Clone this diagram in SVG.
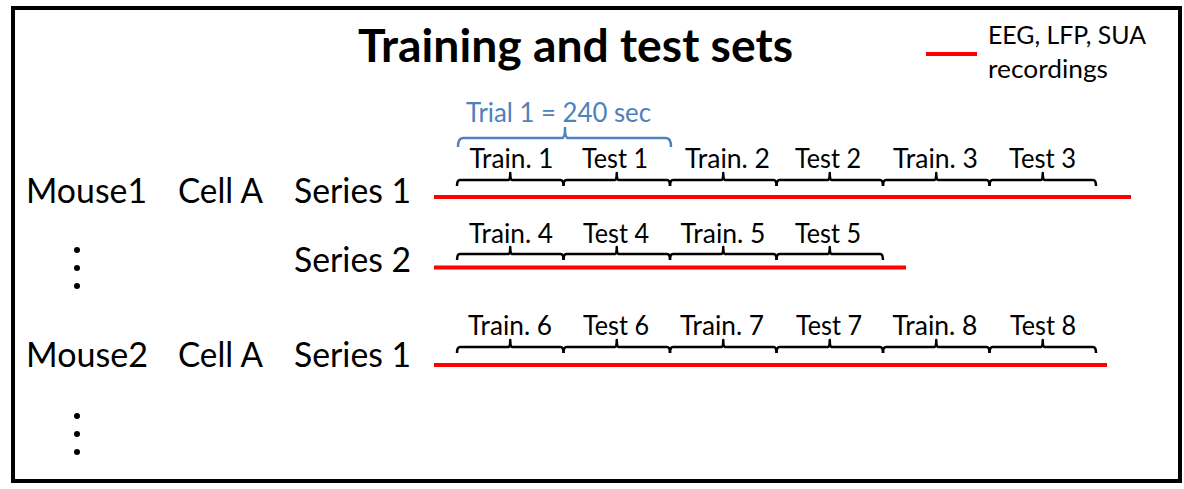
<svg xmlns="http://www.w3.org/2000/svg" xmlns:xlink="http://www.w3.org/1999/xlink" width="1184" height="489" viewBox="0 0 1184 489">
  <style>
    text { font-family: Lato, "Open Sans", "Liberation Sans", sans-serif; fill: #000; }
    .title { font-size: 45px; font-weight: bold; text-anchor: middle; }
    .main { font-size: 34px; }
    .seg { font-size: 26px; text-anchor: middle; }
    .leg { font-size: 25.5px; }
    .blue { font-size: 26px; fill: #4f81bd; text-anchor: middle; }
    .rec { stroke: #ff0000; stroke-width: 4; fill: none; }
    .brace { stroke: #000; stroke-width: 2.5; fill: none; stroke-linejoin: round; }
    .bbrace { stroke: #4f81bd; stroke-width: 2.5; fill: none; stroke-linejoin: round; }
    .dot { fill: #000; }
  </style>
  <defs>
    <path id="br" class="brace" d="M0,6 Q0,0 3,0 H51.5 Q53.25,0 53.25,-7 Q53.25,0 55,0 H103.5 Q106.5,0 106.5,6"/>
  </defs>
  <rect x="13" y="8" width="1167" height="473" fill="#fff" stroke="#000" stroke-width="4"/>

  <g id="title">
    <text class="title" x="575.5" y="62" textLength="435" lengthAdjust="spacingAndGlyphs">Training and test sets</text>
  </g>

  <g id="legend">
    <line class="rec" x1="926" y1="54" x2="977" y2="54"/>
    <text class="leg" x="988" y="44" textLength="158" lengthAdjust="spacingAndGlyphs">EEG, LFP, SUA</text>
    <text class="leg" x="988" y="78" textLength="120" lengthAdjust="spacingAndGlyphs">recordings</text>
  </g>

  <g id="labels">
    <text class="main" x="26" y="203" textLength="121" lengthAdjust="spacingAndGlyphs">Mouse1</text>
    <text class="main" x="178" y="203" textLength="85" lengthAdjust="spacingAndGlyphs">Cell A</text>
    <text class="main" x="294" y="203" textLength="117" lengthAdjust="spacingAndGlyphs">Series 1</text>
    <text class="main" x="294" y="272" textLength="117" lengthAdjust="spacingAndGlyphs">Series 2</text>
    <text class="main" x="26" y="367" textLength="122" lengthAdjust="spacingAndGlyphs">Mouse2</text>
    <text class="main" x="178" y="367" textLength="85" lengthAdjust="spacingAndGlyphs">Cell A</text>
    <text class="main" x="294" y="367" textLength="117" lengthAdjust="spacingAndGlyphs">Series 1</text>
  </g>

  <g id="ellipsis">
    <circle class="dot" cx="77" cy="250" r="3"/>
    <circle class="dot" cx="77" cy="268" r="3"/>
    <circle class="dot" cx="77" cy="286" r="3"/>
    <circle class="dot" cx="77" cy="416" r="3"/>
    <circle class="dot" cx="77" cy="434" r="3"/>
    <circle class="dot" cx="77" cy="452" r="3"/>
  </g>

  <g id="trial">
    <path class="bbrace" d="M458,147 Q458,138 463,138 H562 Q565,138 565,128 Q565,138 568,138 H666 Q671,138 671,147"/>
    <text class="blue" x="558.5" y="122" textLength="185" lengthAdjust="spacingAndGlyphs">Trial 1 = 240 sec</text>
  </g>

  <g id="recordings">
    <line class="rec" x1="434" y1="197" x2="1131" y2="197"/>
    <line class="rec" x1="434" y1="267.5" x2="906" y2="267.5"/>
    <line class="rec" x1="434" y1="365" x2="1107" y2="365"/>
  </g>

  <g id="row1">
    <use xlink:href="#br" x="457" y="180"/>
    <use xlink:href="#br" x="563.5" y="180"/>
    <use xlink:href="#br" x="670" y="180"/>
    <use xlink:href="#br" x="776.5" y="180"/>
    <use xlink:href="#br" x="883" y="180"/>
    <use xlink:href="#br" x="989.5" y="180"/>
    <text class="seg" x="511.5" y="168" textLength="84" lengthAdjust="spacingAndGlyphs">Train. 1</text>
    <text class="seg" x="615" y="168" textLength="66" lengthAdjust="spacingAndGlyphs">Test 1</text>
    <text class="seg" x="727.5" y="168" textLength="85" lengthAdjust="spacingAndGlyphs">Train. 2</text>
    <text class="seg" x="828" y="168" textLength="66" lengthAdjust="spacingAndGlyphs">Test 2</text>
    <text class="seg" x="935.5" y="168" textLength="85" lengthAdjust="spacingAndGlyphs">Train. 3</text>
    <text class="seg" x="1042.5" y="168" textLength="67" lengthAdjust="spacingAndGlyphs">Test 3</text>
  </g>

  <g id="row2">
    <use xlink:href="#br" x="457" y="254"/>
    <use xlink:href="#br" x="563.5" y="254"/>
    <use xlink:href="#br" x="670" y="254"/>
    <use xlink:href="#br" x="776.5" y="254"/>
    <text class="seg" x="511" y="243" textLength="84" lengthAdjust="spacingAndGlyphs">Train. 4</text>
    <text class="seg" x="616" y="243" textLength="66" lengthAdjust="spacingAndGlyphs">Test 4</text>
    <text class="seg" x="723" y="243" textLength="85" lengthAdjust="spacingAndGlyphs">Train. 5</text>
    <text class="seg" x="828" y="243" textLength="66" lengthAdjust="spacingAndGlyphs">Test 5</text>
  </g>

  <g id="row3">
    <use xlink:href="#br" x="457" y="347"/>
    <use xlink:href="#br" x="563.5" y="347"/>
    <use xlink:href="#br" x="670" y="347"/>
    <use xlink:href="#br" x="776.5" y="347"/>
    <use xlink:href="#br" x="883" y="347"/>
    <use xlink:href="#br" x="989.5" y="347"/>
    <text class="seg" x="510" y="335" textLength="84" lengthAdjust="spacingAndGlyphs">Train. 6</text>
    <text class="seg" x="616" y="335" textLength="66" lengthAdjust="spacingAndGlyphs">Test 6</text>
    <text class="seg" x="722" y="335" textLength="84" lengthAdjust="spacingAndGlyphs">Train. 7</text>
    <text class="seg" x="829" y="335" textLength="66" lengthAdjust="spacingAndGlyphs">Test 7</text>
    <text class="seg" x="935" y="335" textLength="85" lengthAdjust="spacingAndGlyphs">Train. 8</text>
    <text class="seg" x="1043" y="335" textLength="66" lengthAdjust="spacingAndGlyphs">Test 8</text>
  </g>
</svg>
